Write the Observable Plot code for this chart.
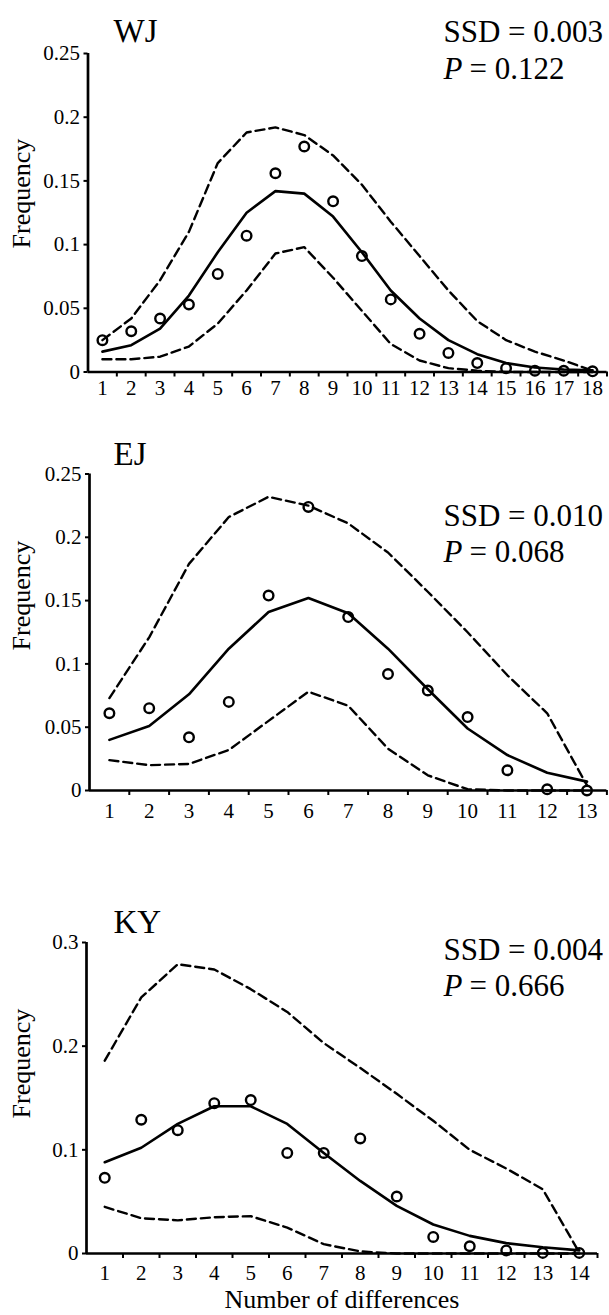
<!DOCTYPE html>
<html>
<head>
<meta charset="utf-8">
<script src="https://cdn.jsdelivr.net/npm/d3@7"></script>
<script src="https://cdn.jsdelivr.net/npm/@observablehq/plot@0.6"></script>
<style>
  body { margin: 0; background: #fff; }
  #wrap { position: relative; width: 609px; height: 1315px; overflow: hidden; }
  #wrap svg { position: absolute; left: 0; }
</style>
</head>
<body>
<div id="wrap"></div>
<script>
// ---------- data ----------
const wjDiff = [1, 2, 3, 4, 5, 6, 7, 8, 9, 10, 11, 12, 13, 14, 15, 16, 17, 18];
const wjObserved = [0.025, 0.032, 0.042, 0.053, 0.077, 0.107, 0.156, 0.177, 0.134, 0.091, 0.057, 0.030, 0.015, 0.007, 0.003, 0.001, 0.001, 0.0005];
const wjExpected = [0.016, 0.021, 0.034, 0.060, 0.094, 0.125, 0.142, 0.140, 0.122, 0.094, 0.064, 0.042, 0.025, 0.014, 0.007, 0.0035, 0.002, 0.0013];
const wjUpper = [0.025, 0.042, 0.072, 0.110, 0.164, 0.188, 0.192, 0.186, 0.170, 0.147, 0.118, 0.091, 0.064, 0.040, 0.025, 0.016, 0.009, 0.001];
const wjLower = [0.010, 0.010, 0.012, 0.020, 0.038, 0.064, 0.093, 0.098, 0.074, 0.048, 0.022, 0.009, 0.003, 0.001, 0, 0, 0, 0];

const ejDiff = [1, 2, 3, 4, 5, 6, 7, 8, 9, 10, 11, 12, 13];
const ejObserved = [0.061, 0.065, 0.042, 0.070, 0.154, 0.224, 0.137, 0.092, 0.079, 0.058, 0.016, 0.001, 0];
const ejExpected = [0.040, 0.051, 0.076, 0.112, 0.141, 0.152, 0.140, 0.112, 0.080, 0.049, 0.028, 0.014, 0.007];
const ejUpper = [0.073, 0.121, 0.179, 0.216, 0.232, 0.225, 0.211, 0.188, 0.157, 0.125, 0.091, 0.061, 0.004];
const ejLower = [0.024, 0.020, 0.021, 0.032, 0.055, 0.078, 0.067, 0.033, 0.012, 0.001, 0, 0, 0];

const kyDiff = [1, 2, 3, 4, 5, 6, 7, 8, 9, 10, 11, 12, 13, 14];
const kyObserved = [0.073, 0.129, 0.119, 0.145, 0.148, 0.097, 0.097, 0.111, 0.055, 0.016, 0.007, 0.003, 0.0006, 0.0006];
const kyExpected = [0.088, 0.102, 0.125, 0.142, 0.142, 0.125, 0.097, 0.070, 0.046, 0.028, 0.017, 0.010, 0.006, 0.003];
const kyUpper = [0.186, 0.247, 0.279, 0.274, 0.255, 0.233, 0.203, 0.179, 0.154, 0.128, 0.100, 0.082, 0.062, 0.001];
const kyLower = [0.045, 0.034, 0.032, 0.035, 0.036, 0.025, 0.009, 0.002, 0, 0, 0, 0, 0, 0];

const wjYTicks = [0, 0.05, 0.1, 0.15, 0.2, 0.25];
const ejYTicks = [0, 0.05, 0.1, 0.15, 0.2, 0.25];
const kyYTicks = [0, 0.1, 0.2, 0.3];

const panels = [
  { name: "WJ", ssd: "0.003", p: "0.122", diff: wjDiff, obs: wjObserved, exp: wjExpected, up: wjUpper, lo: wjLower, yTicks: wjYTicks, yMax: 0.25,
    top: 0, height: 410, mLeft: 87.5, mRight: 2.5, mTop: 53, mBottom: 38.5, xPad: 8, titleBase: 41, ssdBase: 41, pBase: 78, freqY: 193, xLabel: false },
  { name: "EJ", ssd: "0.010", p: "0.068", diff: ejDiff, obs: ejObserved, exp: ejExpected, up: ejUpper, lo: ejLower, yTicks: ejYTicks, yMax: 0.25,
    top: 410, height: 420, mLeft: 89, mRight: 2.6, mTop: 63.5, mBottom: 40, xPad: 13, titleBase: 464, ssdBase: 525, pBase: 561, freqY: 595, xLabel: false },
  { name: "KY", ssd: "0.004", p: "0.666", diff: kyDiff, obs: kyObserved, exp: kyExpected, up: kyUpper, lo: kyLower, yTicks: kyYTicks, yMax: 0.3,
    top: 830, height: 485, mLeft: 86, mRight: 12, mTop: 112, mBottom: 62, xPad: 12, titleBase: 932, ssdBase: 959, pBase: 995, freqY: 1063, xLabel: true }
];

const FONT = "'Liberation Serif', 'Times New Roman', serif";
const wrap = document.getElementById("wrap");

for (const P of panels) {
  const rows = P.diff.map((k, i) => ({ k, obs: P.obs[i], exp: P.exp[i], up: P.up[i], lo: P.lo[i] }));
  const n = P.diff.length;
  const halfTicks = P.diff.map(d => d + 0.5);
  const fy = P.top + P.mTop;                       // absolute y of frame top
  const fMid = P.top + (P.mTop + P.height - P.mBottom) / 2; // absolute y of frame middle

  const marks = [
    Plot.axisY({ ticks: P.yTicks, tickSize: 4, tickPadding: 4, fontSize: 21, strokeWidth: 2, tickFormat: d => String(d), label: null }),
    Plot.axisX({ ticks: P.diff, tickSize: 0, tickPadding: P.xPad, fontSize: 21, tickFormat: d => String(d), label: null }),
    Plot.axisX({ ticks: halfTicks, tickSize: 5, strokeWidth: 2, tickFormat: () => "", label: null }),
    Plot.ruleX([0.5], { strokeWidth: 2.7 }),
    Plot.ruleY([0], { strokeWidth: 2.7 }),
    Plot.line(rows, { x: "k", y: "up", stroke: "black", strokeWidth: 2.4, strokeDasharray: "9,5" }),
    Plot.line(rows, { x: "k", y: "lo", stroke: "black", strokeWidth: 2.4, strokeDasharray: "9,5" }),
    Plot.line(rows, { x: "k", y: "exp", stroke: "black", strokeWidth: 2.6 }),
    Plot.dot(rows, { x: "k", y: "obs", r: 4.8, stroke: "black", strokeWidth: 2.4, fill: "none" }),
    // panel title
    Plot.text([P.name], { frameAnchor: "top-left", textAnchor: "start", lineAnchor: "bottom", fontSize: 33,
      dx: 113 - P.mLeft, dy: P.titleBase - fy }),
    // SSD / P annotation
    Plot.text(["SSD = " + P.ssd], { frameAnchor: "top-left", textAnchor: "start", lineAnchor: "bottom", fontSize: 31,
      dx: 443 - P.mLeft, dy: P.ssdBase - fy }),
    Plot.text(["P"], { frameAnchor: "top-left", textAnchor: "start", lineAnchor: "bottom", fontSize: 31, fontStyle: "italic",
      dx: 443 - P.mLeft, dy: P.pBase - fy }),
    Plot.text(["= " + P.p], { frameAnchor: "top-left", textAnchor: "start", lineAnchor: "bottom", fontSize: 31,
      dx: 469 - P.mLeft, dy: P.pBase - fy }),
    // y label
    Plot.text(["Frequency"], { frameAnchor: "left", textAnchor: "middle", rotate: -90, lineAnchor: "middle", fontSize: 26,
      dx: 21 - P.mLeft, dy: P.freqY - fMid })
  ];
  if (P.xLabel) {
    marks.push(Plot.text(["Number of differences"], { frameAnchor: "bottom", textAnchor: "middle", lineAnchor: "bottom", fontSize: 26,
      dy: 1307 - (P.top + P.height - P.mBottom) }));
  }

  const chart = Plot.plot({
    width: 609,
    height: P.height,
    marginLeft: P.mLeft,
    marginRight: P.mRight,
    marginTop: P.mTop,
    marginBottom: P.mBottom,
    x: { domain: [0.5, n + 0.5], axis: null },
    y: { domain: [0, P.yMax], axis: null },
    style: { fontFamily: FONT, background: "transparent", color: "black", overflow: "visible" },
    marks
  });
  chart.style.top = P.top + "px";
  wrap.appendChild(chart);
}
</script>
</body>
</html>
